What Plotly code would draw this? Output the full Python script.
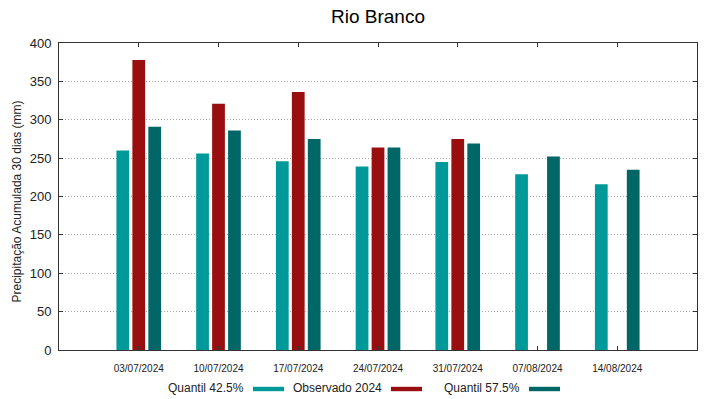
import plotly.graph_objects as go

categories = ["03/07/2024", "10/07/2024", "17/07/2024", "24/07/2024",
              "31/07/2024", "07/08/2024", "14/08/2024"]
q425 = [260, 256, 246, 239, 245, 229, 216]
obs2024 = [378, 321, 336, 264, 275, None, None]
q575 = [291, 286, 275, 264, 269, 252, 235]

series_names = ["Quantil 42.5%", "Observado 2024", "Quantil 57.5%"]
colors = ["#009999", "#990F0F", "#006666"]
title = "Rio Branco"
ytitle = "Precipitação Acumulada 30 dias (mm)"

W, H = 719, 399
L, R, T, B = 59, 22, 43, 49
pw, ph = W - L - R, H - T - B

fig = go.Figure()
for name, vals, c in zip(series_names, [q425, obs2024, q575], colors):
    fig.add_trace(go.Bar(x=categories, y=vals, name=name,
                         marker=dict(color=c, line=dict(width=0)),
                         showlegend=False))

font = "Liberation Sans, Arial, sans-serif"
fig.update_layout(
    width=W, height=H,
    margin=dict(l=L, r=R, t=T, b=B, autoexpand=False),
    paper_bgcolor="white", plot_bgcolor="white",
    barmode="group", bargap=0.4, bargroupgap=0.2,
    font=dict(family=font, color="#222222"),
    title=dict(text=title, x=0.5, xanchor="center", xref="paper",
               y=1 - 16 / H, yref="container", yanchor="middle",
               font=dict(size=19, family=font, color="#000000")),
)
fig.update_xaxes(type="category", range=[-1, 7], showline=True, linecolor="#333333",
                 linewidth=1, mirror="allticks", ticks="inside", ticklen=4,
                 tickcolor="#333333", showgrid=False, ticklabelstandoff=9,
                 tickfont=dict(size=10, family=font, color="#222222"))
fig.update_yaxes(range=[0, 400], dtick=50, showline=True, linecolor="#333333",
                 linewidth=1, mirror="allticks", ticks="inside", ticklen=4,
                 tickcolor="#333333", showgrid=True, gridcolor="#a8a8a8",
                 griddash="1px,2px", gridwidth=1, zeroline=False,
                 ticklabelstandoff=4,
                 tickfont=dict(size=13, family=font, color="#222222"))

# y-axis title (placed like the reference, slightly below plot centre)
fig.add_annotation(x=(16 - L) / pw, y=(H - B - 201.5) / ph, xref="paper", yref="paper",
                   text=ytitle, textangle=-90, showarrow=False,
                   xanchor="center", yanchor="middle",
                   font=dict(size=12, family=font, color="#222222"))

# legend: text followed by swatch to the right (gnuplot style)
legend_items = [(246, 253, 284), (384, 391, 422), (522, 529, 560)]
ly = 387.5
for (txt_right, sx0, sx1), name, c in zip(legend_items, series_names, colors):
    fig.add_annotation(x=(txt_right - L) / pw, y=(H - B - ly) / ph,
                       xref="paper", yref="paper", text=name, showarrow=False,
                       xanchor="right", yanchor="middle",
                       font=dict(size=12, family=font, color="#222222"))
    fig.add_shape(type="rect", xref="paper", yref="paper",
                  x0=(sx0 - L) / pw, x1=(sx1 - L) / pw,
                  y0=(H - B - (ly + 1.5 + 2.2)) / ph, y1=(H - B - (ly + 1.5 - 2.2)) / ph,
                  fillcolor=c, line=dict(width=0))

fig.write_html("out.html", config={"displayModeBar": False},
               post_script="document.body.style.margin='0';document.body.style.overflow='hidden';")
